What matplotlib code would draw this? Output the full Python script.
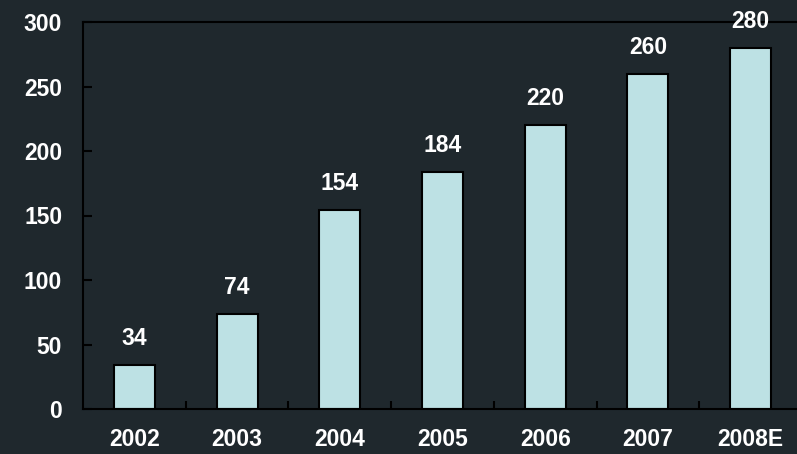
import matplotlib
matplotlib.use('Agg')
import matplotlib.pyplot as plt
import numpy as np

plt.rcParams['font.family'] = ['Liberation Sans', 'DejaVu Sans']

years = ['2002', '2003', '2004', '2005', '2006', '2007', '2008E']
values = [34, 74, 154, 184, 220, 260, 280]

bg = '#1f282d'
bar_color = '#bde1e4'

fig = plt.figure(figsize=(7.97, 4.54), dpi=100, facecolor=bg)
ax = fig.add_axes([83 / 797, 45 / 454, 719 / 797, 387 / 454], facecolor=bg)

x = np.arange(len(years))
ax.bar(x, values, width=0.40, color=bar_color, edgecolor='black', linewidth=1.5)

for xi, v in zip(x, values):
    ax.annotate(str(v), (xi, v), xytext=(0, 19), textcoords='offset points',
                ha='center', va='center', color='white', fontsize=16.5, fontweight='bold')

ax.set_xlim(-0.5, len(years) - 0.5)
ax.set_ylim(0, 300)
ax.set_yticks(range(0, 301, 50))
ax.tick_params(axis='y', direction='in', length=6.5, width=1.5, pad=15,
               labelcolor='white', labelsize=16.5, color='black')
# 刻度线在柱子之间，标签在柱子中间
ax.set_xticks(x + 0.5, minor=False)
ax.set_xticklabels([])
ax.set_xticks(x, minor=True)
ax.set_xticklabels(years, minor=True)
ax.tick_params(axis='x', which='major', direction='in', length=6, width=1.5, color='black')
ax.tick_params(axis='x', which='minor', length=0, pad=14, labelcolor='white', labelsize=16.5)
for lab in ax.get_yticklabels() + ax.get_xticklabels(minor=True):
    lab.set_fontweight('bold')

for s in ['left', 'bottom', 'top']:
    ax.spines[s].set_color('black')
    ax.spines[s].set_linewidth(1.5)
ax.spines['right'].set_visible(False)

fig.savefig('out.png', dpi=100, facecolor=bg)
